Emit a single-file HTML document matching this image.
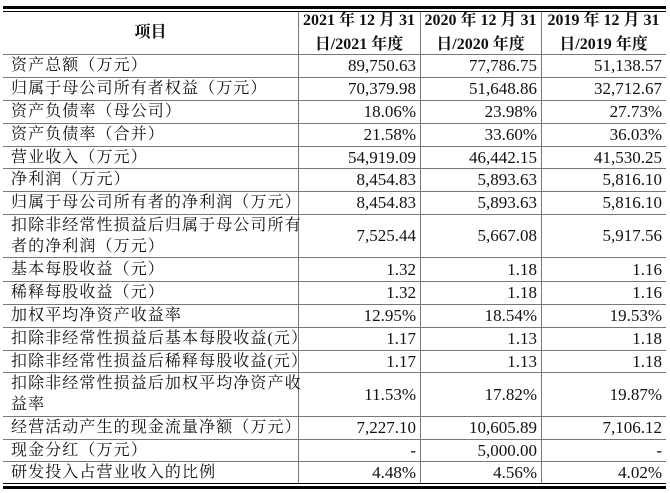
<!DOCTYPE html>
<html><head><meta charset="utf-8"><style>
body{margin:0;width:670px;height:493px;background:#fff;position:relative;overflow:hidden;font-family:"Liberation Serif","Noto Serif CJK SC",serif;color:#111}
.c{position:absolute;display:flex;align-items:center;font-size:17px;line-height:21px;box-sizing:border-box;white-space:nowrap}
.l{padding-left:8px;font-size:16px;letter-spacing:1.1px}
.r{justify-content:flex-end;padding-right:4px}
.h{justify-content:center;text-align:center;font-weight:bold;font-size:16px;line-height:24px}
.hl{position:absolute;background:#777;height:1px}
.vl{position:absolute;background:#777;width:1px}
</style></head><body>
<div id="t"></div>
<script>
const rowLabels=["资产总额（万元）","归属于母公司所有者权益（万元）","资产负债率（母公司）","资产负债率（合并）","营业收入（万元）","净利润（万元）","归属于母公司所有者的净利润（万元）","扣除非经常性损益后归属于母公司所有<br>者的净利润（万元）","基本每股收益（元）","稀释每股收益（元）","加权平均净资产收益率","扣除非经常性损益后基本每股收益(元）","扣除非经常性损益后稀释每股收益(元）","扣除非经常性损益后加权平均净资产收<br>益率","经营活动产生的现金流量净额（万元）","现金分红（万元）","研发投入占营业收入的比例"];
const col2021=["89,750.63","70,379.98","18.06%","21.58%","54,919.09","8,454.83","8,454.83","7,525.44","1.32","1.32","12.95%","1.17","1.17","11.53%","7,227.10","-","4.48%"];
const col2020=["77,786.75","51,648.86","23.98%","33.60%","46,442.15","5,893.63","5,893.63","5,667.08","1.18","1.18","18.54%","1.13","1.13","17.82%","10,605.89","5,000.00","4.56%"];
const col2019=["51,138.57","32,712.67","27.73%","36.03%","41,530.25","5,816.10","5,816.10","5,917.56","1.16","1.16","19.53%","1.18","1.18","19.87%","7,106.12","-","4.02%"];
const headers=["项目","2021 年 12 月 31<br>日/2021 年度","2020 年 12 月 31<br>日/2020 年度","2019 年 12 月 31<br>日/2019 年度"];
const ys=[12,54,77,100,123,146,168,191,214,257,281,304,327,350,372,416,439,461,483];
const xs=[3,298,420,541,666];
const t=document.getElementById('t');
function add(cls,x,y,w,h,html){const d=document.createElement('div');d.className=cls;d.style.left=x+'px';d.style.top=y+'px';d.style.width=w+'px';d.style.height=h+'px';if(html!==undefined)d.innerHTML=html;t.appendChild(d);return d;}
let b=add('hl',3,6,663,3);b.style.background='#000';


b=add('hl',3,11,663,1);b.style.background='#000';


b=add('hl',3,483,663,1);b.style.background='#000';


b=add('hl',3,486,663,3);b.style.background='#000';


for(let i=1;i<ys.length-1;i++){const l=add('hl',3,ys[i],663,1);

}
for(let j=1;j<4;j++){const v=add('vl',xs[j],12,1,471);

}
for(let j=0;j<4;j++){const c=add('c h',xs[j],ys[0],xs[j+1]-xs[j],ys[1]-ys[0],headers[j]);

}
const cols=[col2021,col2020,col2019];
for(let i=0;i<rowLabels.length;i++){
 const y=ys[i+1],h=ys[i+2]-ys[i+1];
 const c=add('c l',xs[0],y,xs[1]-xs[0],h,rowLabels[i]);
 
 
 for(let j=0;j<3;j++){const v=add('c r',xs[j+1],y,xs[j+2]-xs[j+1],h,cols[j][i]);
 
 }
}
</script>
</body></html>
